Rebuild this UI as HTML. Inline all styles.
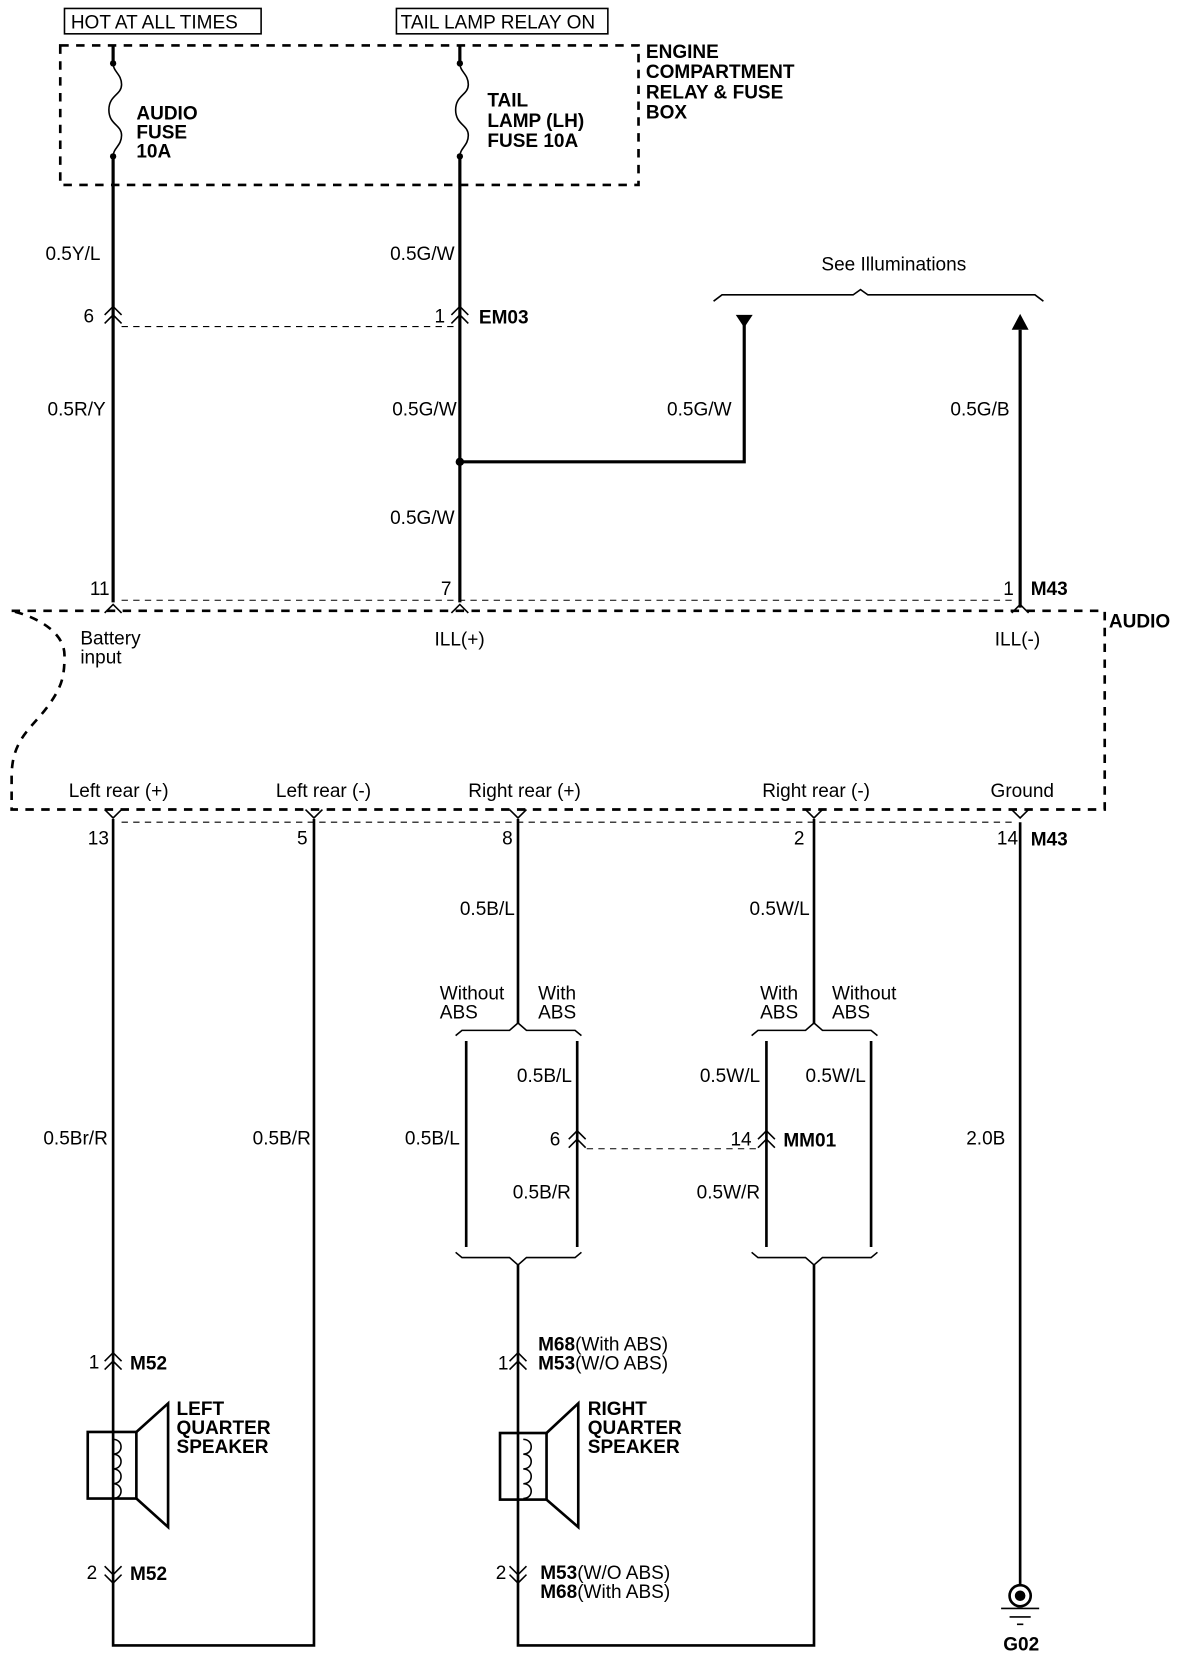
<!DOCTYPE html>
<html><head><meta charset="utf-8"><style>
html,body{margin:0;padding:0;background:#fff;}
svg{display:block;}
text{font-family:"Liberation Sans",Arial,sans-serif;font-size:18px;fill:#000;}
.b{font-weight:bold;}
</style></head><body>
<svg width="1184" height="1656" viewBox="1 0 1120 1567" preserveAspectRatio="none" xmlns="http://www.w3.org/2000/svg">
<g fill="none" stroke="#000">
<rect x="62" y="8" width="186" height="24" stroke-width="1.5"/>
<rect x="376" y="8" width="200" height="24" stroke-width="1.5"/>
<rect x="58" y="43" width="547" height="132" stroke-width="2.5" stroke-dasharray="8,7"/>
<path d="M108 43V60M108 148V570" stroke-width="3"/>
<path d="M108 60c0 8 8 10 8 20s-12 10-12 24 12 14 12 24-8 12-8 20" stroke-width="1.5"/>
<path d="M436 43V60M436 148V570" stroke-width="3"/>
<path d="M436 60c0 8 8 10 8 20s-12 10-12 24 12 14 12 24-8 12-8 20" stroke-width="1.5"/>
<path d="M100 298l8-8 8 8M100 306l8-8 8 8M428 298l8-8 8 8M428 306l8-8 8 8" stroke-width="1.5"/>
<path d="M116 309H430" stroke-width="1" stroke-dasharray="6,5"/>
<path d="M436 437H705V306" stroke-width="3"/>
<path d="M966 575V312" stroke-width="3"/>
<path d="M676 285l8-6H808l7-5 7 5H980l8 6" stroke-width="1.5"/>
<path d="M116 568H958" stroke-width="1" stroke-dasharray="6,5"/>
<path d="M100 580l8-8 8 8M428 580l8-8 8 8M958 580l8-8 8 8" stroke-width="1.5"/>
<path d="M12 578H1046V766H12V735C12 700 30 690 45 670 60 650 62 640 62 620 62 600 40 585 12 578" stroke-width="2.5" stroke-dasharray="8,7"/>
<path d="M100 766l8 8 8-8M290 766l8 8 8-8M483 766l8 8 8-8M763 766l8 8 8-8M958 766l8 8 8-8" stroke-width="1.5"/>
<path d="M116 778H958" stroke-width="1" stroke-dasharray="6,5"/>
<path d="M108 775V1557H298V775" stroke-width="2.5"/>
<path d="M491 775V968" stroke-width="2.5"/>
<path d="M432 980l6-5h45l8-7 8 7h46l6 5" stroke-width="1.5"/>
<path d="M442 985V1180M547 985V1180" stroke-width="2.5"/>
<path d="M432 1185l6 5h45l8 7 8-7h46l6-5" stroke-width="1.5"/>
<path d="M491 1197V1557H771V1197" stroke-width="2.5"/>
<path d="M771 775V968" stroke-width="2.5"/>
<path d="M712 980l6-5h45l8-7 8 7h46l6 5" stroke-width="1.5"/>
<path d="M726 985V1180M825 985V1180" stroke-width="2.5"/>
<path d="M712 1185l6 5h45l8 7 8-7h46l6-5" stroke-width="1.5"/>
<path d="M539 1078l8-8 8 8M539 1086l8-8 8 8M718 1078l8-8 8 8M718 1086l8-8 8 8" stroke-width="1.5"/>
<path d="M556 1087H718" stroke-width="1" stroke-dasharray="6,5"/>
<path d="M100 1288l8-8 8 8M100 1296l8-8 8 8M483 1288l8-8 8 8M483 1296l8-8 8 8" stroke-width="1.5"/>
<path d="M100 1482l8 8 8-8M100 1490l8 8 8-8M483 1482l8 8 8-8M483 1490l8 8 8-8" stroke-width="1.5"/>
<rect x="84" y="1355" width="46" height="63" stroke-width="2.5"/>
<path d="M130 1355L160 1328V1445L130 1418" stroke-width="2.5"/>
<path d="M108 1362c10 0 10 14 0 14c10 0 10 14 0 14c10 0 10 14 0 14c10 0 10 14 0 14" stroke-width="1.5"/>
<rect x="474" y="1356" width="44" height="63" stroke-width="2.5"/>
<path d="M518 1356L548 1328V1445L518 1419" stroke-width="2.5"/>
<path d="M496 1362c10 0 10 14 0 14c10 0 10 14 0 14c10 0 10 14 0 14c10 0 10 14 0 14" stroke-width="1.5"/>
<path d="M966 778V1500" stroke-width="2.5"/>
<circle cx="966" cy="1510" r="10" stroke-width="2.5"/>
<path d="M948 1522H984M956 1530H976M963 1537H969" stroke-width="1.5"/>
</g>
<circle cx="436" cy="437" r="4"/>
<circle cx="108" cy="60" r="3"/><circle cx="108" cy="148" r="3"/>
<circle cx="436" cy="60" r="3"/><circle cx="436" cy="148" r="3"/>
<circle cx="966" cy="1510" r="5"/>
<polygon points="697,298 713,298 705,310"/>
<polygon points="958,312 974,312 966,297"/>

<text x="68" y="27">HOT AT ALL TIMES</text>
<text x="380" y="27">TAIL LAMP RELAY ON</text>
<text class="b" x="612" y="55">ENGINE</text>
<text class="b" x="612" y="74">COMPARTMENT</text>
<text class="b" x="612" y="93">RELAY &amp; FUSE</text>
<text class="b" x="612" y="112">BOX</text>
<text class="b" x="130" y="113">AUDIO</text>
<text class="b" x="130" y="131">FUSE</text>
<text class="b" x="130" y="149">10A</text>
<text class="b" x="462" y="101">TAIL</text>
<text class="b" x="462" y="120">LAMP (LH)</text>
<text class="b" x="462" y="139">FUSE 10A</text>
<text x="44" y="246">0.5Y/L</text>
<text x="370" y="246">0.5G/W</text>
<text x="80" y="305">6</text>
<text x="412" y="305">1</text>
<text class="b" x="454" y="306">EM03</text>
<text x="778" y="256">See Illuminations</text>
<text x="46" y="393">0.5R/Y</text>
<text x="372" y="393">0.5G/W</text>
<text x="632" y="393">0.5G/W</text>
<text x="900" y="393">0.5G/B</text>
<text x="370" y="496">0.5G/W</text>
<text x="86" y="563">11</text>
<text x="418" y="563">7</text>
<text x="950" y="563">1</text>
<text class="b" x="976" y="563">M43</text>
<text class="b" x="1050" y="594">AUDIO</text>
<text x="77" y="610">Battery</text>
<text x="77" y="628">input</text>
<text x="412" y="611">ILL(+)</text>
<text x="942" y="611">ILL(-)</text>
<text x="66" y="754">Left rear (+)</text>
<text x="262" y="754">Left rear (-)</text>
<text x="444" y="754">Right rear (+)</text>
<text x="722" y="754">Right rear (-)</text>
<text x="938" y="754">Ground</text>
<text x="84" y="799">13</text>
<text x="282" y="799">5</text>
<text x="476" y="799">8</text>
<text x="752" y="799">2</text>
<text x="944" y="799">14</text>
<text class="b" x="976" y="800">M43</text>
<text x="436" y="866">0.5B/L</text>
<text x="710" y="866">0.5W/L</text>
<text x="417" y="946">Without</text>
<text x="417" y="964">ABS</text>
<text x="510" y="946">With</text>
<text x="510" y="964">ABS</text>
<text x="720" y="946">With</text>
<text x="720" y="964">ABS</text>
<text x="788" y="946">Without</text>
<text x="788" y="964">ABS</text>
<text x="490" y="1024">0.5B/L</text>
<text x="663" y="1024">0.5W/L</text>
<text x="763" y="1024">0.5W/L</text>
<text x="42" y="1083">0.5Br/R</text>
<text x="240" y="1083">0.5B/R</text>
<text x="384" y="1083">0.5B/L</text>
<text x="521" y="1084">6</text>
<text x="692" y="1084">14</text>
<text class="b" x="742" y="1085">MM01</text>
<text x="915" y="1083">2.0B</text>
<text x="486" y="1134">0.5B/R</text>
<text x="660" y="1134">0.5W/R</text>
<text x="85" y="1295">1</text>
<text class="b" x="124" y="1296">M52</text>
<text x="472" y="1296">1</text>
<text x="510" y="1278"><tspan class="b">M68</tspan>(With ABS)</text>
<text x="510" y="1296"><tspan class="b">M53</tspan>(W/O ABS)</text>
<text class="b" x="168" y="1339">LEFT</text>
<text class="b" x="168" y="1357">QUARTER</text>
<text class="b" x="168" y="1375">SPEAKER</text>
<text class="b" x="557" y="1339">RIGHT</text>
<text class="b" x="557" y="1357">QUARTER</text>
<text class="b" x="557" y="1375">SPEAKER</text>
<text x="83" y="1494">2</text>
<text class="b" x="124" y="1495">M52</text>
<text x="470" y="1494">2</text>
<text x="512" y="1494"><tspan class="b">M53</tspan>(W/O ABS)</text>
<text x="512" y="1512"><tspan class="b">M68</tspan>(With ABS)</text>
<text class="b" x="950" y="1562">G02</text>
</svg>
</body></html>
